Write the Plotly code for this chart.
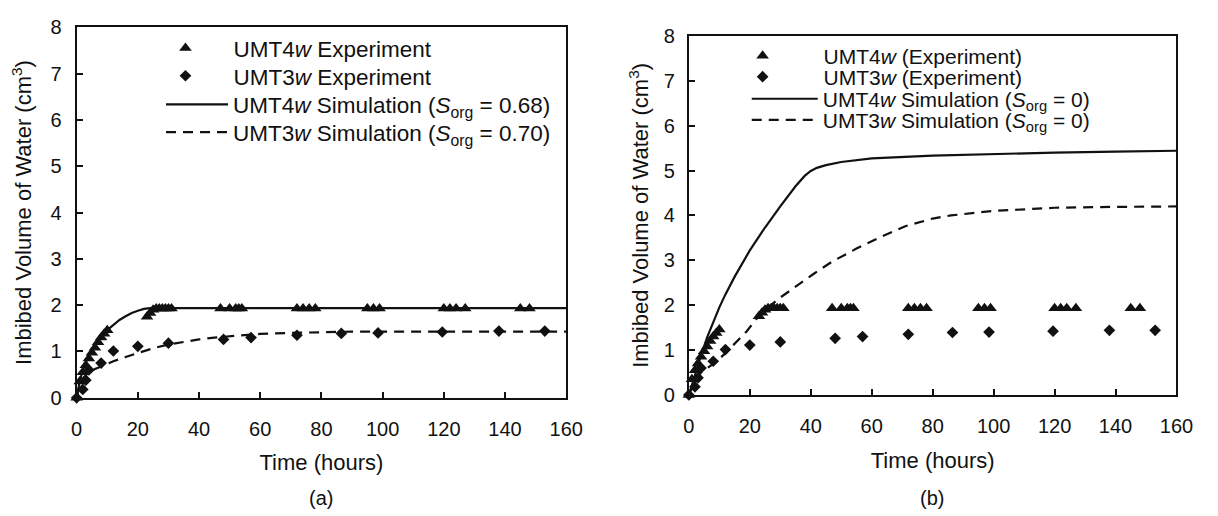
import plotly.graph_objects as go

# ---- data ----
tri_x = [0, 1, 2, 3, 4, 5, 6, 7, 8, 9, 10, 23, 24, 25, 26, 27, 28, 29, 30, 31,
         47, 50, 52, 53, 54, 72, 74, 76, 78, 95, 97, 99, 120, 122, 124, 127, 145, 148]
tri_y = [0, 0.35, 0.55, 0.7, 0.85, 0.97, 1.08, 1.2, 1.3, 1.38, 1.46, 1.75, 1.83, 1.9, 1.93, 1.93, 1.93, 1.93, 1.93, 1.93,
         1.93, 1.93, 1.93, 1.93, 1.93, 1.93, 1.93, 1.93, 1.93, 1.93, 1.93, 1.93, 1.93, 1.93, 1.93, 1.93, 1.93, 1.93]
dia_x = [0, 2, 3, 4, 8, 12, 20, 30, 48, 57, 72, 86.5, 98.5, 119.5, 138, 153]
dia_y = [0, 0.18, 0.38, 0.6, 0.75, 1.01, 1.11, 1.18, 1.26, 1.30, 1.35, 1.39, 1.40, 1.42, 1.44, 1.44]

simA4_x = [0, 1, 2, 3, 4, 6, 8, 10, 12, 14, 16, 18, 20, 22, 24, 160]
simA4_y = [0, 0.35, 0.6, 0.78, 0.92, 1.14, 1.32, 1.46, 1.58, 1.68, 1.76, 1.83, 1.88, 1.92, 1.935, 1.935]
simA3_x = [0, 1, 2, 4, 6, 8, 10, 12, 16, 20, 25, 30, 35, 40, 45, 50, 55, 60, 70, 80, 90, 160]
simA3_y = [0, 0.3, 0.42, 0.55, 0.62, 0.68, 0.74, 0.79, 0.88, 0.97, 1.07, 1.15, 1.21, 1.26, 1.3, 1.33, 1.36, 1.38, 1.4, 1.42, 1.43, 1.43]

simB4_x = [0, 2, 4, 6, 8, 10, 12, 15, 20, 25, 30, 35, 38, 40, 42, 45, 50, 60, 80, 100, 120, 140, 160]
simB4_y = [0, 0.45, 0.88, 1.28, 1.63, 1.95, 2.24, 2.63, 3.22, 3.73, 4.2, 4.65, 4.88, 4.99, 5.06, 5.12, 5.19, 5.27, 5.33, 5.37, 5.4, 5.42, 5.44]
simB3_x = [0, 2, 4, 6, 9, 12, 15, 19, 22, 26, 30, 35, 41, 47, 55, 63, 71, 80, 86, 100, 120, 140, 160]
simB3_y = [0, 0.3, 0.5, 0.6, 0.74, 0.93, 1.13, 1.42, 1.68, 1.95, 2.17, 2.42, 2.7, 2.97, 3.26, 3.52, 3.76, 3.93, 4.0, 4.1, 4.17, 4.19, 4.2]

x_ticks = [0, 20, 40, 60, 80, 100, 120, 140, 160]
y_ticks = [0, 1, 2, 3, 4, 5, 6, 7, 8]

namesA = ["UMT4<i>w</i> Experiment", "UMT3<i>w</i> Experiment",
          "UMT4<i>w</i> Simulation (<i>S</i><sub>org</sub> = 0.68)",
          "UMT3<i>w</i> Simulation (<i>S</i><sub>org</sub> = 0.70)"]
namesB = ["UMT4<i>w</i> (Experiment)", "UMT3<i>w</i> (Experiment)",
          "UMT4<i>w</i> Simulation (<i>S</i><sub>org</sub> = 0)",
          "UMT3<i>w</i> Simulation (<i>S</i><sub>org</sub> = 0)"]

FONT = "Liberation Sans, Arial, Helvetica, sans-serif"
TICK_FS = 20
TITLE_FS = 22
INK = "#111"
W, H = 1218, 516

fig = go.Figure()

def add_panel(xa, ya, legs, names, s4x, s4y, s3x, s3y):
    fig.add_trace(go.Scatter(x=tri_x, y=tri_y, mode="markers", name=names[0], xaxis=xa, yaxis=ya,
                             legend=legs[0], cliponaxis=False,
                             marker=dict(symbol="triangle-up", size=11, color=INK)))
    fig.add_trace(go.Scatter(x=dia_x, y=dia_y, mode="markers", name=names[1], xaxis=xa, yaxis=ya,
                             legend=legs[1], cliponaxis=False,
                             marker=dict(symbol="diamond", size=9, color=INK)))
    fig.add_trace(go.Scatter(x=s4x, y=s4y, mode="lines", name=names[2], xaxis=xa, yaxis=ya,
                             legend=legs[2],
                             line=dict(color=INK, width=2.2)))
    fig.add_trace(go.Scatter(x=s3x, y=s3y, mode="lines", name=names[3], xaxis=xa, yaxis=ya,
                             legend=legs[3],
                             line=dict(color=INK, width=2.2, dash="10px,7px")))

add_panel("x", "y", ["legend", "legend2", "legend3", "legend4"], namesA, simA4_x, simA4_y, simA3_x, simA3_y)
add_panel("x2", "y2", ["legend5", "legend6", "legend7", "legend8"], namesB, simB4_x, simB4_y, simB3_x, simB3_y)

def leg(x0, yc, iw, fs):
    return dict(x=x0 / W, y=(H - yc) / H, xanchor="left", yanchor="middle",
                bgcolor="rgba(0,0,0,0)", itemwidth=iw,
                font=dict(family=FONT, size=fs, color=INK))

axis_common = dict(showline=True, linecolor=INK, linewidth=2, mirror=True,
                   ticks="inside", ticklen=6, tickwidth=1.5, tickcolor=INK,
                   showgrid=False, zeroline=False,
                   tickfont=dict(family=FONT, size=TICK_FS, color=INK))

ytitle = "Imbibed Volume of Water (cm<sup>3</sup>)"
fig.update_layout(
    width=W, height=H,
    margin=dict(l=0, r=0, t=0, b=0),
    paper_bgcolor="white", plot_bgcolor="white",
    font=dict(family=FONT, size=TITLE_FS, color=INK),
    xaxis=dict(domain=[72 / W, 571 / W], range=[0, 160], tickvals=x_ticks, anchor="y",
               ticklabelstandoff=12,
               title=dict(text="Time (hours)", standoff=16, font=dict(size=TITLE_FS)),
               **axis_common),
    yaxis=dict(domain=[(H - 404) / H, (H - 17) / H], range=[0, 8], tickvals=y_ticks, anchor="x",
               ticklabelstandoff=9,
               title=dict(text=ytitle, standoff=13, font=dict(size=TITLE_FS)),
               **axis_common),
    xaxis2=dict(domain=[696 / W, 1193 / W], range=[0, 160], tickvals=x_ticks, anchor="y2",
                ticklabelstandoff=12,
                title=dict(text="Time (hours)", standoff=17, font=dict(size=TITLE_FS)),
                **axis_common),
    yaxis2=dict(domain=[(H - 401) / H, (H - 26) / H], range=[0, 8], tickvals=y_ticks, anchor="x2",
                ticklabelstandoff=8,
                title=dict(text=ytitle, standoff=9, font=dict(size=TITLE_FS)),
                **axis_common),
    legend=leg(134, 39, 86, 22.5),
    legend2=leg(134, 68, 86, 22.5),
    legend3=leg(158, 98, 62, 22.5),
    legend4=leg(158, 127, 62, 22.5),
    legend5=leg(709, 47, 112, 21),
    legend6=leg(709, 69, 112, 21),
    legend7=leg(755, 92, 66, 21),
    legend8=leg(755, 114, 66, 21),
    showlegend=True,
    annotations=[
        dict(text="(a)", x=321 / W, y=(H - 509) / H, xref="paper", yref="paper",
             xanchor="center", yanchor="middle",
             showarrow=False, font=dict(family=FONT, size=TICK_FS, color=INK)),
        dict(text="(b)", x=944 / W, y=(H - 509) / H, xref="paper", yref="paper",
             xanchor="center", yanchor="middle",
             showarrow=False, font=dict(family=FONT, size=TICK_FS, color=INK)),
    ],
)

fig.write_html("out.html")
